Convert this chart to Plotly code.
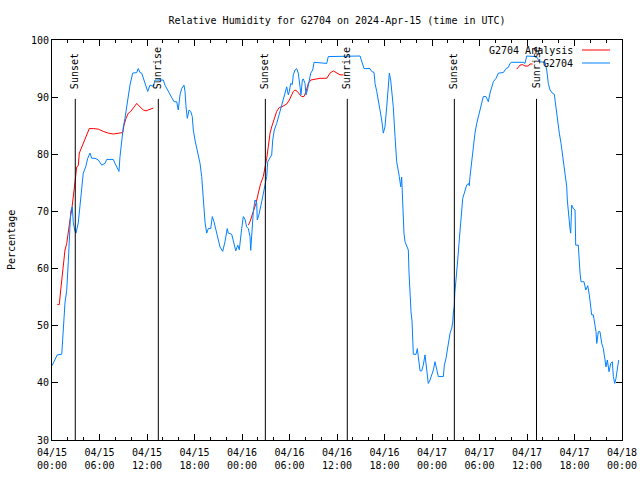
import pandas as pd
import plotly.graph_objects as go

# ---------------- data ----------------
start = pd.Timestamp("2024-04-15 00:00")

obs_hours = [0.0, 0.67, 1.23, 1.35, 1.52, 1.64, 1.86, 2.06, 2.19, 2.36, 2.56, 2.69, 2.91, 3.03, 3.32, 3.54,
             3.75, 3.95, 4.26, 4.51, 4.80, 5.01, 5.43, 5.85, 6.28, 6.70, 6.91, 7.74, 7.96, 8.17, 8.46, 8.59,
             8.80, 9.01, 9.22, 9.51, 9.85, 10.19, 10.70, 10.90, 11.12, 11.33, 11.62, 11.96, 12.09, 12.38,
             12.80, 13.01, 14.06, 14.27, 14.69, 15.12, 15.41, 15.75, 15.95, 16.17, 16.38, 16.67, 16.80,
             16.93, 17.09, 17.31, 17.52, 17.72, 17.85, 18.06, 18.28, 18.48, 18.70, 18.91, 19.11, 19.33,
             19.54, 19.74, 20.05, 20.25, 20.46, 20.80, 21.22, 21.56, 21.85, 22.14, 22.27, 22.70, 22.99,
             23.21, 23.46, 23.66, 23.96, 24.17, 24.38, 24.59, 24.80, 25.01, 25.10, 25.23, 25.43, 25.64,
             25.86, 25.93, 26.15, 26.49, 26.69, 26.91, 27.12, 27.25, 27.45, 27.75, 27.88, 28.08, 28.38,
             28.59, 28.80, 29.02, 29.22, 29.43, 29.65, 29.85, 29.98, 30.15, 30.35, 30.48, 30.70, 30.91,
             31.11, 31.33, 31.45, 31.62, 31.74, 31.96, 32.09, 32.30, 32.46, 32.68, 32.93, 33.10, 34.70,
             34.90, 38.91, 39.12, 39.41, 40.17, 40.38, 40.68, 40.80, 41.02, 41.22, 41.43, 41.65, 41.85,
             42.06, 42.28, 42.48, 42.61, 42.78, 42.91, 43.11, 43.33, 43.54, 43.87, 44.05, 44.17, 44.30,
             44.38, 44.46, 44.59, 44.81, 45.01, 45.10, 45.22, 45.35, 45.48, 45.56, 45.64, 45.98, 46.15,
             46.27, 46.40, 46.49, 46.70, 46.90, 47.12, 47.24, 47.41, 47.53, 47.75, 47.96, 48.17, 48.38,
             48.60, 48.80, 49.43, 49.56, 49.77, 49.93, 50.15, 50.28, 50.49, 50.62, 50.69, 50.82, 50.88,
             51.00, 51.12, 51.25, 51.41, 51.54, 51.66, 51.75, 51.88, 52.08, 52.38, 52.59, 52.71, 52.80,
             53.02, 53.22, 53.43, 53.65, 53.85, 54.06, 54.28, 54.48, 54.82, 55.11, 55.33, 55.54, 55.75,
             56.09, 56.38, 57.01, 57.35, 57.64, 57.85, 58.07, 59.53, 59.75, 59.96, 61.01, 61.30, 61.56,
             62.28, 62.49, 62.69, 62.91, 63.20, 63.45, 63.67, 63.88, 64.08, 64.30, 64.51, 64.72, 64.89,
             65.02, 65.09, 65.22, 65.43, 65.52, 65.65, 65.85, 66.07, 66.15, 66.48, 66.70, 66.82, 67.04,
             67.20, 67.42, 67.67, 67.87, 68.05, 68.17, 68.38, 68.59, 68.72, 68.81, 69.01, 69.22, 69.44,
             69.64, 69.85, 69.98, 70.15, 70.36, 70.58, 70.78, 70.91, 71.08, 71.24, 71.46, 71.58]
obs_rh = [43.0, 44.9, 45.0, 48.7, 51.3, 54.0, 56.2, 61.2, 66.2, 70.0, 70.8, 68.0, 66.5, 66.2, 68.0, 70.8,
          73.75, 76.7, 77.8, 79.3, 80.2, 79.3, 79.3, 79.0, 78.1, 78.4, 79.1, 79.1, 78.4, 77.8, 77.0, 79.6,
          82.5, 84.8, 86.3, 88.9, 92.1, 94.2, 94.3, 95.0, 94.3, 94.2, 93.0, 91.5, 91.0, 92.1,
          91.9, 93.0, 93.0, 92.1, 91.0, 90.1, 89.2, 89.2, 87.75, 90.4, 91.5, 92.1, 91.0,
          88.3, 86.3, 87.75, 87.5, 86.6, 84.25, 82.5, 81.0, 79.6, 78.4, 76.1, 72.6, 68.1,
          66.2, 67.0, 67.0, 69.1, 68.2, 66.2, 63.8, 63.0, 64.7, 67.0, 66.2, 66.0, 64.1,
          63.1, 64.1, 63.3, 67.0, 69.1, 68.6, 67.3, 67.0, 65.6, 63.2, 66.2, 70.0, 72.0,
          71.5, 68.5, 69.5, 71.7, 73.2, 74.9, 76.1, 78.7, 79.3, 79.9, 82.5, 84.25, 85.4,
          86.3, 87.5, 88.6, 89.8, 91.0, 91.8, 90.4, 91.0, 92.4, 92.2, 93.9, 94.75, 95.0,
          94.2, 91.8, 90.4, 93.0, 93.2, 92.4, 90.4, 91.5, 92.7, 94.2, 94.75, 96.1, 95.9,
          97.1, 97.2, 96.2, 95.0, 95.0, 94.5, 94.3, 92.4, 91.0, 89.5, 88.3, 86.0, 83.7,
          84.8, 88.3, 93.0, 94.2, 93.0, 91.25, 88.3, 83.1, 78.7, 76.1, 74.3, 76.0, 72.0,
          67.3, 66.2, 64.7, 63.8, 63.25, 59.2, 54.2, 52.45, 50.7, 47.5, 45.0, 45.0, 46.0,
          44.6, 43.1, 42.1, 42.1, 43.1, 44.9, 43.7, 41.1, 39.9, 40.5, 41.4, 42.25, 43.7,
          42.5, 41.1, 41.1, 43.1, 44.3, 45.75, 47.2, 48.7, 49.55, 50.7, 52.2, 53.45, 55.7,
          57.4, 58.6, 61.5, 64.4, 67.0, 69.1, 70.8, 72.3, 73.2, 74.6, 74.9, 74.5, 76.1,
          79.0, 81.3, 83.7, 85.4, 86.6, 87.75, 89.2, 90.1, 90.1, 89.2, 90.7, 91.8, 92.7,
          93.3, 94.2, 94.3, 95.0, 95.2, 95.9, 96.1, 96.1, 95.9, 97.2, 97.1, 96.9, 96.2,
          96.1, 94.75, 92.4, 91.25, 90.7, 90.5, 87.75, 85.4, 83.7, 81.9, 79.6, 77.8, 76.1,
          74.3, 72.0, 69.4, 67.0, 66.2, 71.1, 70.5, 70.25, 64.1, 64.1, 59.2, 57.7, 57.7,
          57.7, 56.25, 57.0, 55.4, 52.75, 51.9, 51.9, 50.4, 48.95, 46.9, 48.95, 48.95, 46.9,
          46.0, 43.7, 42.8, 44.0, 41.95, 43.4, 43.7, 41.1, 39.9, 40.8, 43.1, 44.0]

ana_hours = [0.67, 0.92, 1.10, 1.23, 1.43, 1.64, 1.86, 2.06, 2.27, 2.49, 2.69, 2.91, 3.12, 3.32, 3.45,
             3.75, 3.95, 4.38, 4.71, 5.22, 5.85, 6.48, 7.11, 7.74, 8.38, 8.93, 9.10, 9.35, 9.64, 9.94,
             10.27, 10.70, 11.12, 11.53, 11.87, 12.38, 12.80,
             None,
             24.80, 25.01, 25.43, 25.77, 26.06, 26.36, 26.69, 26.91, 27.12, 27.32, 27.54, 27.75, 27.95,
             28.17, 28.38, 28.71, 29.02, 29.65, 29.98, 30.28, 30.48, 30.70, 30.99, 31.33, 31.54, 31.83,
             32.09, 32.38, 32.68, 33.10, 33.85, 34.70, 35.12, 35.53, 35.96, 36.38, 36.80,
             None,
             58.70, 59.12, 59.45, 59.75, 60.17, 60.38, 60.71]
ana_rh = [53.7, 53.7, 56.25, 58.3, 61.2, 63.25, 64.4, 66.75, 68.5, 70.25, 72.3, 75.2, 77.8, 78.0, 80.2,
          81.3, 81.9, 83.4, 84.5, 84.5, 84.4, 84.0, 83.7, 83.55, 83.7, 83.8, 85.1, 86.3, 87.2, 87.5,
          88.1, 88.9, 88.3, 87.75, 87.6, 87.9, 88.1,
          None,
          67.6, 68.2, 70.0, 71.4, 73.2, 74.9, 76.1, 77.5, 79.3, 81.3, 83.7, 84.8, 85.7,
          86.6, 87.5, 88.2, 88.3, 88.8, 89.5, 90.4, 91.0, 91.25, 91.0, 90.4, 90.1, 90.1,
          91.0, 92.4, 93.0, 93.1, 93.3, 93.3, 94.2, 94.6, 94.2, 93.9, 93.9,
          None,
          94.9, 95.6, 95.7, 95.45, 95.45, 95.8, 95.8]

sun_events = ["Sunset", "Sunrise", "Sunset", "Sunrise", "Sunset", "Sunrise"]
sun_hours = [2.94, 13.43, 26.95, 37.30, 50.82, 61.20]
sun_line_top = 89.7

tick_hours = [0, 6, 12, 18, 24, 30, 36, 42, 48, 54, 60, 66, 72]
tick_labels = ["04/15<br>00:00", "04/15<br>06:00", "04/15<br>12:00", "04/15<br>18:00",
               "04/16<br>00:00", "04/16<br>06:00", "04/16<br>12:00", "04/16<br>18:00",
               "04/17<br>00:00", "04/17<br>06:00", "04/17<br>12:00", "04/17<br>18:00",
               "04/18<br>00:00"]

series_names = ["G2704 Analysis", "G2704"]
series_colors = ["#ff0000", "#0080ff"]


def to_time(hours):
    return [None if h is None else start + pd.Timedelta(hours=h) for h in hours]


FONT = "DejaVu Sans Mono"
fig = go.Figure()

fig.add_trace(go.Scatter(x=to_time(ana_hours), y=ana_rh, mode="lines", name=series_names[0],
                         line=dict(color=series_colors[0], width=1), connectgaps=False,
                         showlegend=False))
fig.add_trace(go.Scatter(x=to_time(obs_hours), y=obs_rh, mode="lines", name=series_names[1],
                         line=dict(color=series_colors[1], width=1), showlegend=False))

# sunrise / sunset markers
for ev, h in zip(sun_events, sun_hours):
    t = start + pd.Timedelta(hours=h)
    fig.add_shape(type="line", xref="x", yref="y", x0=t, x1=t, y0=30, y1=sun_line_top,
                  line=dict(color="black", width=1))
    fig.add_annotation(x=t, y=sun_line_top + 1.4, xref="x", yref="y", text=ev, textangle=-90,
                       showarrow=False, xanchor="center", yanchor="bottom",
                       font=dict(family=FONT, size=10, color="black"))

# gnuplot-style legend (text right, sample line on the right)
leg_y = [0.975, 0.9425]
for name, col, yy in zip(series_names, series_colors, leg_y):
    fig.add_annotation(x=0.9175, y=yy, xref="paper", yref="paper", text=name, showarrow=False,
                       xanchor="right", yanchor="middle",
                       font=dict(family=FONT, size=10, color="black"))
    fig.add_shape(type="line", xref="paper", yref="paper", x0=0.9298, x1=0.9789, y0=yy, y1=yy,
                  line=dict(color=col, width=1))

# y-axis title
fig.add_annotation(x=-0.0720, y=0.5, xref="paper", yref="paper", text="Percentage",
                   textangle=-90, showarrow=False, xanchor="center", yanchor="middle",
                   font=dict(family=FONT, size=10, color="black"))

fig.update_layout(
    width=640, height=480,
    margin=dict(l=52, r=18, t=40, b=40, autoexpand=False),
    paper_bgcolor="white", plot_bgcolor="white",
    font=dict(family=FONT, size=10, color="black"),
    title=dict(text="Relative Humidity for G2704 on 2024-Apr-15 (time in UTC)",
               x=0.5, xref="paper", xanchor="center", y=0.958, yanchor="middle",
               font=dict(family=FONT, size=10, color="black")),
    showlegend=False,
)
fig.update_xaxes(
    range=[start, start + pd.Timedelta(hours=72)], automargin=False,
    tickvals=to_time(tick_hours), ticktext=tick_labels,
    ticks="inside", ticklen=6, tickcolor="black", tickwidth=1,
    minor=dict(ticks="inside", ticklen=3, tickcolor="black", dtick=2 * 3600000,
               tick0=start),
    showline=True, linecolor="black", linewidth=1, mirror="ticks",
    showgrid=False, zeroline=False, tickangle=0, ticklabelstandoff=3,
    tickfont=dict(family=FONT, size=10, color="black"),
)
fig.update_yaxes(
    range=[30, 100], tickvals=[30, 40, 50, 60, 70, 80, 90, 100], automargin=False,
    ticks="inside", ticklen=6, tickcolor="black", tickwidth=1,
    showline=True, linecolor="black", linewidth=1, mirror="ticks",
    showgrid=False, zeroline=False,
    tickfont=dict(family=FONT, size=10, color="black"),
)

fig.write_html("out.html", config={"displayModeBar": False},
               post_script="document.body.style.margin='0px';document.body.style.overflow='hidden';")
